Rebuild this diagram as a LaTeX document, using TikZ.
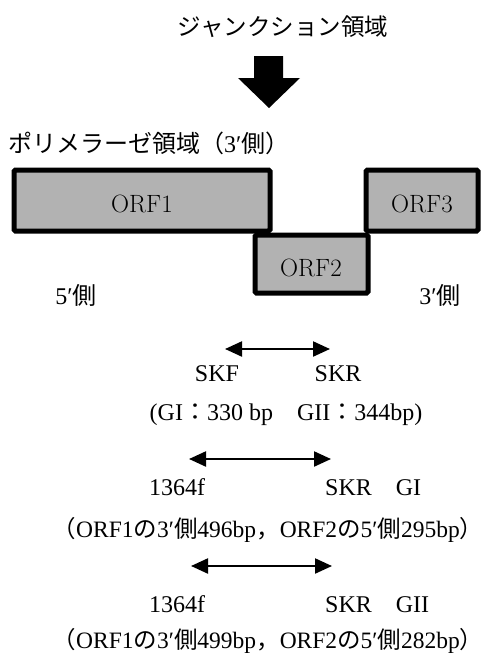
\documentclass[tikz,border=0pt]{standalone}
\usepackage{fontspec}
\newfontfamily\cjk{Noto Sans CJK JP}
\newfontfamily\tms{Liberation Serif}
\usetikzlibrary{arrows.meta}
\definecolor{boxgray}{RGB}{178,178,178}
\newcommand{\jlp}{\makebox[13pt][r]{\cjk （}}
\newcommand{\jrp}{\makebox[13pt][l]{\cjk ）}}
\begin{document}
\begin{tikzpicture}[x=1pt,y=-1pt,
  txt/.style={inner sep=0pt, font=\fontsize{24}{28}\selectfont\tms},
  longtxt/.style={inner sep=0pt, font=\fontsize{23.5}{28}\selectfont\tms},
  jtxt/.style={inner sep=0pt, font=\fontsize{23.5}{28}\selectfont\cjk},
  orfbox/.style={draw=black, line width=5pt, fill=boxgray, rounded corners=1.5pt, inner sep=0pt},
  orflabel/.style={inner sep=0pt, font=\fontsize{25}{30}\selectfont},
  dbl/.style={line width=2.2pt, {Triangle[length=17pt,width=15pt]}-{Triangle[length=17pt,width=15pt]}},
  bigarrow/.style={fill=black},
]
\useasboundingbox (0,0) rectangle (484,653);
% title
\node[jtxt, anchor=base] (title) at (283,35.5) {ジャンクション領域};
% big down arrow
\fill[bigarrow] (254,56) -- (283,56) -- (283,78) -- (300,78) -- (269,108) -- (238,78) -- (254,78) -- cycle;
% polymerase label
\node[txt, anchor=base west] (poly) at (8,152) {{\cjk ポリメラーゼ領域（}3′{\cjk 側）}};
% ORF boxes
\node[orfbox, minimum width=256pt, minimum height=61pt] (orf1) at (142,200.5) {};
\node[orfbox, minimum width=112pt, minimum height=61pt] (orf3) at (422,200.5) {};
\node[orfbox, minimum width=113pt, minimum height=58pt] (orf2) at (311.5,264) {};
\node[orflabel, anchor=base] (l1) at (142,212) {ORF1};
\node[orflabel, anchor=base] (l2) at (311,276) {ORF2};
\node[orflabel, anchor=base] (l3) at (422,212) {ORF3};
% ends
\node[txt, anchor=base] (five) at (76,304) {5′{\cjk 側}};
\node[txt, anchor=base] (three) at (440,304) {3′{\cjk 側}};
% primer pair 1
\coordinate (a1l) at (225,349);
\coordinate (a1r) at (330,349);
\draw[dbl] (a1l) -- (a1r);
\node[txt, anchor=base] (skf) at (217,381) {SKF};
\node[txt, anchor=base] (skr1) at (338,381) {SKR};
\node[txt, anchor=base] (len1) at (286,420) {(GI{\cjk ：}330 bp{\cjk 　}GII{\cjk ：}344bp)};
% primer pair 2
\coordinate (a2l) at (189,459);
\coordinate (a2r) at (331,459);
\draw[dbl] (a2l) -- (a2r);
\node[txt, anchor=base] (f2) at (177,495) {1364f};
\node[txt, anchor=base west] (skr2) at (325,495) {SKR{\cjk 　}GI};
\node[longtxt, anchor=base] (len2) at (268,537) {\jlp ORF1{\cjk の}3′{\cjk 側}496bp{\cjk ，}ORF2{\cjk の}5′{\cjk 側}295bp\jrp};
% primer pair 3
\coordinate (a3l) at (191,566);
\coordinate (a3r) at (332,566);
\draw[dbl] (a3l) -- (a3r);
\node[txt, anchor=base] (f3) at (177,612) {1364f};
\node[txt, anchor=base west] (skr3) at (325,612) {SKR{\cjk 　}GII};
\node[longtxt, anchor=base] (len3) at (268,648) {\jlp ORF1{\cjk の}3′{\cjk 側}499bp{\cjk ，}ORF2{\cjk の}5′{\cjk 側}282bp\jrp};
\end{tikzpicture}
\end{document}
